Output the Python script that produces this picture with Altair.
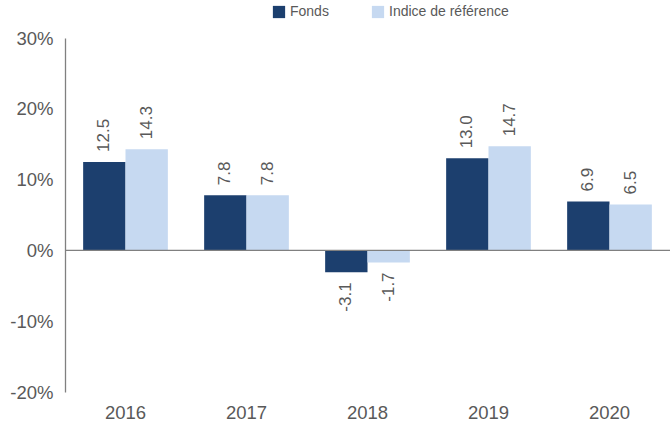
import altair as alt
import pandas as pd

years = ["2016", "2017", "2018", "2019", "2020"]
fonds = [12.5, 7.8, -3.1, 13.0, 6.9]
indice = [14.3, 7.8, -1.7, 14.7, 6.5]
series = ["Fonds", "Indice de référence"]
colors = ["#1C3F6E", "#C6D9F1"]

rows = []
for y, f, i in zip(years, fonds, indice):
    rows.append({"year": y, "serie": series[0], "value": f, "label": f"{f:.1f}"})
    rows.append({"year": y, "serie": series[1], "value": i, "label": f"{i:.1f}"})
df = pd.DataFrame(rows)

FONT = "Liberation Sans"
GRAY = "#595959"

x = alt.X("year:N", title=None, sort=years,
          scale=alt.Scale(paddingInner=0.3, paddingOuter=0.15),
          axis=alt.Axis(labelAngle=0, domain=False, ticks=False, labelFontSize=18.5,
                        labelColor=GRAY, labelFont=FONT, labelPadding=11))
y = alt.Y("value:Q", title=None,
          scale=alt.Scale(domain=[-20, 30], nice=False),
          axis=alt.Axis(values=[-20, -10, 0, 10, 20, 30], labelExpr="datum.value + '%'",
                        grid=False, ticks=False, domainColor="#808080", domainWidth=1.3,
                        labelFontSize=18.5, labelColor=GRAY, labelFont=FONT, labelPadding=12))
color = alt.Color("serie:N", sort=series,
                  scale=alt.Scale(domain=series, range=colors),
                  legend=alt.Legend(title=None, orient="none", direction="horizontal",
                                    legendX=207, legendY=-33, symbolType="square",
                                    symbolSize=150, symbolStrokeWidth=0, labelFontSize=14,
                                    labelFont=FONT, labelColor=GRAY, columnPadding=42,
                                    labelOffset=4))
xoff = alt.XOffset("serie:N", sort=series)

base = alt.Chart(df).encode(x=x, xOffset=xoff)

bars = base.mark_bar().encode(y=y, color=color)

pos = base.transform_filter("datum.value >= 0").mark_text(
    angle=270, align="left", baseline="middle", dx=10, fontSize=17, font=FONT, color=GRAY
).encode(y="value:Q", text="label:N")

neg = base.transform_filter("datum.value < 0").mark_text(
    angle=270, align="right", baseline="middle", dx=-10, fontSize=17, font=FONT, color=GRAY
).encode(y="value:Q", text="label:N")

zero = alt.Chart(pd.DataFrame({"z": [0]})).mark_rule(color="#808080", strokeWidth=1.3).encode(y="z:Q")

chart = alt.layer(bars, zero, pos, neg).properties(
    width=605, height=354,
    autosize=alt.AutoSizeParams(type="none"),
    padding={"left": 65, "top": 38, "right": 0, "bottom": 33},
    background="white",
).configure_view(stroke=None)

chart.save("out.html", embed_options={"renderer": "svg", "actions": False})
